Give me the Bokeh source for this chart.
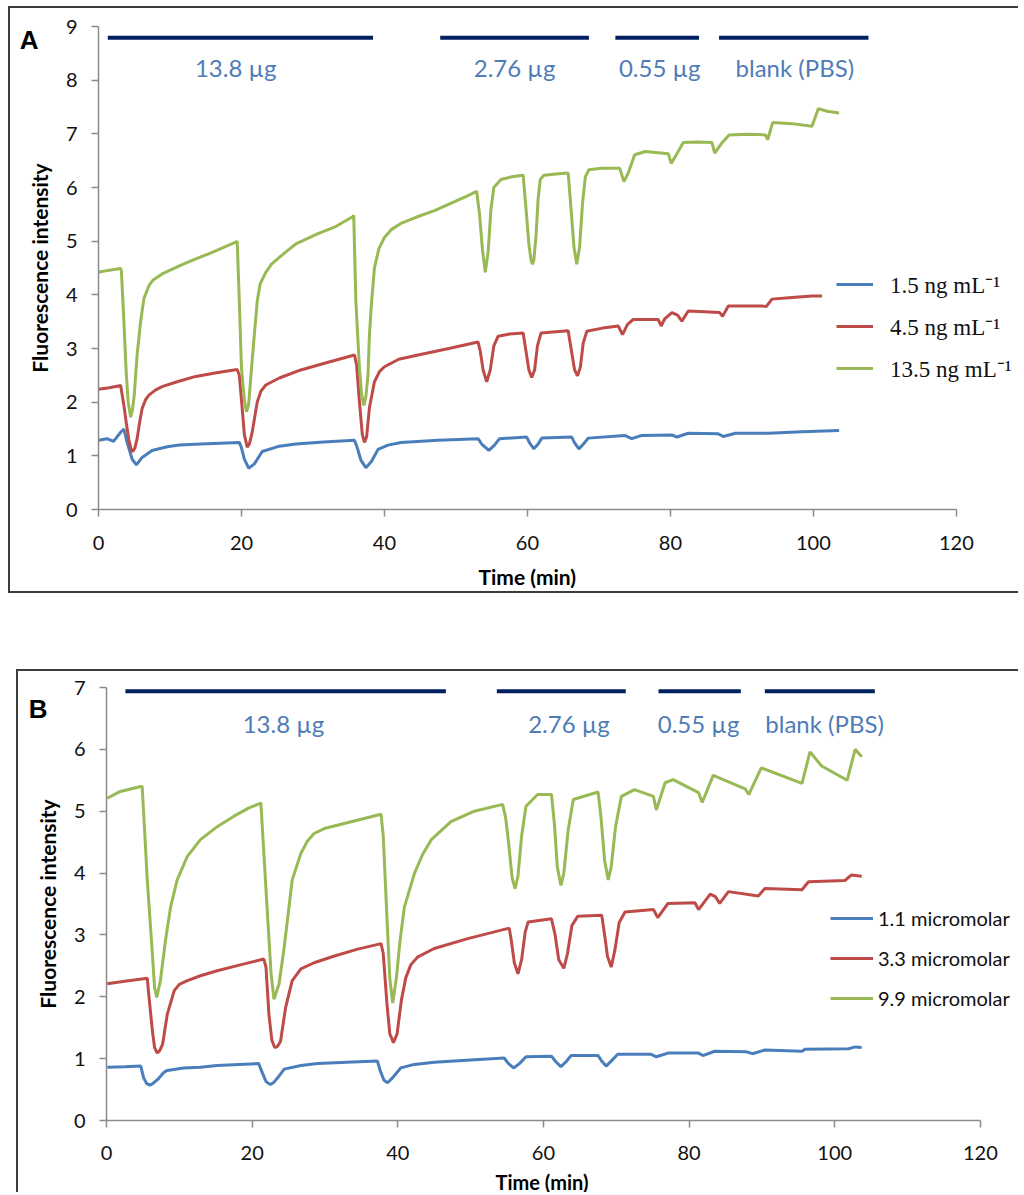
from bokeh.plotting import figure
from bokeh.layouts import column
from bokeh.models import (Range1d, FixedTicker, Legend, LegendItem, ColumnDataSource,
                          LinearAxis, Title)
from bokeh.embed import file_html
from bokeh.resources import INLINE
from bokeh.core.properties import value

# ---------------- data ----------------
TIME_TICKS = [0, 20, 40, 60, 80, 100, 120]
A_Y_TICKS = [0, 1, 2, 3, 4, 5, 6, 7, 8, 9]
B_Y_TICKS = [0, 1, 2, 3, 4, 5, 6, 7]

A_NAMES = ["1.5 ng mL\u207b\u00b9", "4.5 ng mL\u207b\u00b9", "13.5 ng mL\u207b\u00b9"]
B_NAMES = ["1.1 micromolar", "3.3 micromolar", "9.9 micromolar"]

DOSE_LABELS = ["13.8 \u00b5g", "2.76 \u00b5g", "0.55 \u00b5g", "blank (PBS)"]
A_DOSE_START = [1.3, 47.8, 72.3, 86.8]
A_DOSE_END = [38.4, 68.6, 84.0, 107.7]
A_DOSE_LEVEL = 8.79
A_DOSE_LABEL_X = [19.2, 58.2, 78.5, 97.4]
A_DOSE_LABEL_Y = 8.24
B_DOSE_START = [2.6, 53.6, 75.8, 90.4]
B_DOSE_END = [46.6, 71.3, 87.1, 105.5]
B_DOSE_LEVEL = 6.94
B_DOSE_LABEL_X = [24.3, 63.5, 81.3, 98.6]
B_DOSE_LABEL_Y = 6.42

# Panel A, 1.5 ng/mL (time min, intensity)
A_BLUE = [(0, 1.29), (1.2, 1.32), (2.1, 1.27), (3.1, 1.44), (3.55, 1.5), (4.0, 1.25), (4.7, 0.94),
          (5.3, 0.83), (6.1, 0.97), (7.5, 1.1), (9.6, 1.17), (11.3, 1.2), (14.3, 1.22), (19.7, 1.25),
          (20.0, 1.15), (20.4, 0.94), (21.0, 0.77), (21.8, 0.85), (22.9, 1.08), (25.3, 1.18),
          (27.6, 1.22), (31.5, 1.26), (35.8, 1.29), (36.2, 1.15), (36.7, 0.92), (37.4, 0.78),
          (38.2, 0.9), (39.1, 1.12), (40.5, 1.2), (42.3, 1.25), (47.5, 1.29), (53.1, 1.32),
          (53.6, 1.22), (54.6, 1.1), (55.4, 1.2), (56.1, 1.32), (59.9, 1.35), (60.3, 1.24),
          (60.9, 1.13), (61.5, 1.22), (62.0, 1.33), (66.2, 1.35), (66.6, 1.24), (67.2, 1.13),
          (67.9, 1.23), (68.5, 1.33), (73.6, 1.38), (74.6, 1.32), (76.0, 1.38), (80.2, 1.39),
          (80.9, 1.35), (82.5, 1.42), (86.7, 1.41), (87.4, 1.36), (89.1, 1.42), (93.7, 1.42),
          (98.4, 1.45), (103.6, 1.47)]
# Panel A, 4.5 ng/mL
A_RED = [(0, 2.24), (1.5, 2.27), (3.1, 2.31), (3.55, 1.94), (3.9, 1.6), (4.25, 1.3), (4.6, 1.1),
         (4.8, 1.08), (5.1, 1.15), (5.4, 1.32), (5.75, 1.62), (6.1, 1.88), (6.6, 2.05),
         (7.05, 2.13), (8.0, 2.23), (8.9, 2.29), (11.0, 2.38), (13.6, 2.48), (16.5, 2.55),
         (19.4, 2.61), (19.7, 2.5), (20.1, 1.88), (20.4, 1.4), (20.8, 1.16), (21.1, 1.22),
         (21.5, 1.44), (22.2, 2.0), (22.7, 2.2), (23.4, 2.32), (25.3, 2.45), (28.3, 2.6),
         (32.0, 2.74), (35.8, 2.88), (36.1, 2.7), (36.5, 2.0), (36.9, 1.4), (37.2, 1.25),
         (37.5, 1.35), (37.9, 1.9), (38.6, 2.38), (39.3, 2.57), (40.0, 2.66), (42.0, 2.8),
         (44.7, 2.88), (49.0, 3.0), (53.1, 3.12), (53.4, 2.95), (53.8, 2.6), (54.3, 2.38),
         (54.8, 2.6), (55.3, 3.05), (55.9, 3.23), (57.5, 3.27), (59.4, 3.29), (59.8, 2.95),
         (60.2, 2.6), (60.6, 2.46), (61.0, 2.6), (61.4, 3.05), (61.9, 3.29), (65.7, 3.33),
         (66.1, 3.0), (66.6, 2.6), (67.0, 2.49), (67.4, 2.65), (67.8, 3.1), (68.3, 3.32),
         (70.5, 3.38), (72.7, 3.42), (73.3, 3.26), (74.0, 3.45), (74.8, 3.54), (78.3, 3.54),
         (78.7, 3.42), (79.2, 3.55), (80.2, 3.67), (81.0, 3.62), (81.6, 3.51), (82.5, 3.7),
         (86.9, 3.67), (87.3, 3.6), (88.1, 3.79), (93.0, 3.79), (93.4, 3.78), (94.2, 3.92),
         (97.0, 3.95), (99.8, 3.98), (101.2, 3.98)]
# Panel A, 13.5 ng/mL
A_GREEN = [(0, 4.42), (1.5, 4.46), (3.1, 4.49), (3.2, 4.45), (3.55, 3.51), (3.87, 2.57), (4.15, 2.0),
           (4.5, 1.72), (4.75, 1.85), (5.0, 2.13), (5.4, 2.88), (5.9, 3.51), (6.35, 3.93),
           (7.05, 4.17), (7.6, 4.27), (8.9, 4.39), (11.3, 4.54), (13.6, 4.67), (15.9, 4.79),
           (19.2, 4.98), (19.4, 5.0), (19.7, 3.88), (20.0, 2.63), (20.4, 2.05), (20.7, 1.82),
           (21.0, 1.95), (21.4, 2.63), (21.8, 3.26), (22.2, 3.88), (22.6, 4.2), (23.4, 4.42),
           (24.2, 4.57), (25.3, 4.7), (27.6, 4.95), (30.7, 5.14), (33.0, 5.26), (35.6, 5.46),
           (35.7, 5.48), (36.0, 3.88), (36.5, 2.63), (36.8, 2.15), (37.1, 1.94), (37.4, 2.1),
           (37.7, 2.51), (37.9, 3.26), (38.2, 3.88), (38.6, 4.5), (39.2, 4.85), (40.0, 5.07),
           (41.0, 5.22), (42.3, 5.33), (44.5, 5.45), (47.0, 5.57), (49.5, 5.72), (51.7, 5.85),
           (52.9, 5.93), (53.3, 5.5), (53.7, 4.85), (54.1, 4.42), (54.5, 4.8), (54.9, 5.6),
           (55.3, 6.0), (56.3, 6.15), (57.8, 6.2), (59.4, 6.23), (59.8, 5.6), (60.2, 4.95),
           (60.5, 4.65), (60.7, 4.57), (60.9, 4.65), (61.2, 5.1), (61.5, 5.8), (61.8, 6.15),
           (62.3, 6.23), (64.0, 6.25), (65.7, 6.27), (66.1, 5.6), (66.5, 4.9), (66.9, 4.57),
           (67.3, 4.9), (67.7, 5.7), (68.1, 6.2), (68.6, 6.33), (70.4, 6.36), (72.9, 6.36),
           (73.5, 6.11), (74.1, 6.27), (75.0, 6.61), (76.5, 6.67), (79.7, 6.63), (80.1, 6.45),
           (80.7, 6.58), (81.8, 6.84), (83.8, 6.85), (85.8, 6.84), (86.2, 6.64), (87.2, 6.83),
           (88.2, 6.98), (90.8, 6.99), (93.3, 6.98), (93.6, 6.89), (94.3, 7.21), (97.0, 7.19),
           (99.8, 7.14), (100.7, 7.47), (101.9, 7.42), (103.6, 7.39)]

# Panel B, 1.1 micromolar
B_BLUE = [(0.1, 0.86), (2.5, 0.87), (4.7, 0.88), (5.1, 0.69), (5.5, 0.6), (5.95, 0.57), (6.4, 0.6),
          (7.0, 0.66), (7.9, 0.78), (8.35, 0.81), (10.6, 0.85), (12.9, 0.86), (15.2, 0.89),
          (20.9, 0.92), (21.4, 0.77), (21.9, 0.63), (22.5, 0.58), (23.0, 0.62), (23.5, 0.69),
          (24.4, 0.83), (26.7, 0.89), (29.0, 0.92), (33.0, 0.94), (37.2, 0.96), (37.6, 0.8),
          (38.1, 0.65), (38.6, 0.61), (39.2, 0.68), (40.4, 0.85), (42.0, 0.9), (45.0, 0.94),
          (50.0, 0.98), (54.6, 1.01), (55.2, 0.92), (55.9, 0.85), (56.7, 0.92), (57.6, 1.03),
          (61.1, 1.04), (61.7, 0.95), (62.4, 0.87), (63.1, 0.95), (63.8, 1.05), (67.5, 1.05),
          (68.0, 0.96), (68.6, 0.88), (69.3, 0.96), (70.2, 1.07), (74.8, 1.07), (75.5, 1.03),
          (77.1, 1.09), (81.3, 1.09), (81.9, 1.05), (83.5, 1.12), (87.9, 1.11), (88.7, 1.08),
          (90.4, 1.14), (95.5, 1.12), (95.9, 1.15), (101.9, 1.16), (102.8, 1.19), (103.7, 1.18)]
# Panel B, 3.3 micromolar
B_RED = [(0.1, 2.21), (2.5, 2.25), (5.6, 2.30), (5.8, 2.04), (6.3, 1.45), (6.6, 1.18), (6.97, 1.09),
         (7.3, 1.13), (7.7, 1.23), (8.35, 1.72), (9.3, 2.10), (10.0, 2.2), (11.1, 2.26),
         (12.9, 2.34), (15.2, 2.42), (18.5, 2.52), (21.6, 2.61), (21.9, 2.48), (22.3, 1.72),
         (22.7, 1.3), (23.1, 1.18), (23.5, 1.2), (23.9, 1.28), (24.6, 1.83), (25.5, 2.26),
         (26.7, 2.45), (28.5, 2.55), (31.3, 2.66), (34.5, 2.77), (37.7, 2.86), (38.0, 2.7),
         (38.5, 1.9), (38.9, 1.4), (39.4, 1.26), (39.9, 1.4), (40.5, 1.95), (41.1, 2.31),
         (41.8, 2.52), (42.7, 2.64), (45.0, 2.78), (49.6, 2.94), (55.3, 3.11), (55.6, 2.9),
         (56.0, 2.55), (56.5, 2.37), (57.0, 2.6), (57.5, 3.05), (57.9, 3.21), (61.1, 3.26),
         (61.6, 3.0), (62.1, 2.6), (62.8, 2.46), (63.3, 2.7), (63.9, 3.15), (64.7, 3.3),
         (68.0, 3.32), (68.4, 3.0), (68.8, 2.65), (69.3, 2.48), (69.8, 2.75), (70.4, 3.2),
         (71.2, 3.37), (75.1, 3.41), (75.7, 3.28), (77.1, 3.51), (80.8, 3.52), (81.3, 3.41),
         (82.9, 3.66), (83.6, 3.62), (84.2, 3.51), (85.4, 3.70), (89.5, 3.63), (90.4, 3.75),
         (95.5, 3.73), (96.4, 3.86), (101.4, 3.88), (102.3, 3.97), (103.7, 3.95)]
# Panel B, 9.9 micromolar
B_GREEN = [(0.1, 5.21), (1.9, 5.32), (4.7, 5.40), (4.9, 5.40), (5.6, 3.89), (6.3, 2.69), (6.6, 2.15),
           (6.9, 1.99), (7.4, 2.26), (8.1, 2.91), (8.8, 3.45), (9.7, 3.89), (11.1, 4.27),
           (12.9, 4.54), (15.2, 4.75), (17.5, 4.92), (19.5, 5.05), (21.2, 5.13), (22.1, 3.34),
           (22.6, 2.37), (23.0, 1.96), (23.7, 2.21), (24.4, 2.80), (25.5, 3.89), (26.7, 4.32),
           (27.6, 4.52), (28.5, 4.64), (29.9, 4.72), (33.6, 4.83), (37.7, 4.95), (38.0, 4.6),
           (38.5, 3.3), (38.9, 2.3), (39.3, 1.90), (39.8, 2.3), (40.3, 2.9), (40.9, 3.45),
           (42.3, 4.0), (43.4, 4.3), (44.6, 4.54), (47.3, 4.83), (50.5, 5.0), (54.4, 5.11),
           (54.8, 4.9), (55.2, 4.5), (55.7, 3.92), (56.1, 3.75), (56.5, 3.95), (57.0, 4.6),
           (57.6, 5.08), (59.2, 5.27), (61.1, 5.27), (61.5, 4.8), (61.9, 4.1), (62.4, 3.80),
           (62.8, 4.0), (63.4, 4.7), (64.1, 5.19), (67.5, 5.31), (67.9, 4.9), (68.4, 4.2),
           (68.9, 3.89), (69.3, 4.1), (69.9, 4.75), (70.7, 5.24), (72.5, 5.35), (75.1, 5.24),
           (75.5, 5.02), (76.7, 5.46), (77.8, 5.51), (81.3, 5.30), (81.8, 5.14), (83.3, 5.58),
           (87.7, 5.36), (88.2, 5.27), (89.9, 5.70), (95.5, 5.45), (96.6, 5.96), (98.2, 5.73),
           (101.7, 5.50), (102.8, 6.0), (103.7, 5.88)]

COLORS = ["#4a7ebb", "#be4b48", "#98b954"]
BAR_COLOR = "#002060"
DOSE_TEXT_COLOR = "#4f7cb8"
AXIS_COLOR = "#8c8c8c"
BORDER = "2px solid #3c3c3c"


def make_panel(letter, letter_y, letter_standoff, series, names, ymax, yticks, x_end,
               dose_start, dose_end, dose_level, label_x, label_y, frame_w, frame_h, mbt, mbb,
               x_standoff, gap, title_offset, title_standoff, title_size, legend_loc,
               legend_font, legend_size, glyph_w, standoff, spacing, styles, margin):
    p = figure(frame_width=frame_w, frame_height=frame_h, output_backend="svg",
               toolbar_location=None, x_range=Range1d(0, x_end), y_range=Range1d(0, ymax),
               min_border_left=88, min_border_right=2, min_border_top=mbt,
               min_border_bottom=mbb, background_fill_color=None, border_fill_color="white",
               outline_line_color=None)
    p.styles = styles
    p.margin = margin
    p.grid.visible = False
    p.xaxis.bounds = (0, 120)
    for ax, ticks in ((p.xaxis, TIME_TICKS), (p.yaxis, yticks)):
        ax.ticker = FixedTicker(ticks=ticks)
        ax.axis_line_color = AXIS_COLOR
        ax.axis_line_width = 1.5
        ax.major_tick_line_color = AXIS_COLOR
        ax.major_tick_line_width = 1.5
        ax.major_tick_out = 7
        ax.major_tick_in = 0
        ax.minor_tick_line_color = None
        ax.major_label_text_font = "Lato"
        ax.major_label_text_font_size = "20px"
        ax.major_label_text_color = "#111111"
    p.yaxis.axis_label = "Fluorescence intensity"
    p.yaxis.axis_label_text_font = "Lato"
    p.yaxis.axis_label_text_font_style = "bold"
    p.yaxis.axis_label_text_font_size = "21px"
    p.yaxis.axis_label_text_color = "#000000"
    p.xaxis.major_label_standoff = x_standoff
    p.yaxis.major_label_standoff = 14
    p.yaxis.axis_label_standoff = 11
    # blank, tiny x-axis label: only adds a gap between tick labels and the title below
    p.xaxis.axis_label = " "
    p.xaxis.axis_label_text_font_size = "1px"
    p.xaxis.axis_label_standoff = gap

    # x-axis title, centred under the 0-120 part of the axis
    p.add_layout(Title(text="Time (min)", align="left", offset=title_offset,
                       vertical_align="middle", standoff=title_standoff, text_font="Lato",
                       text_font_style="bold", text_font_size=title_size,
                       text_color="#000000"),
                 "below")

    # panel letter, drawn as the only label of an outer left axis
    letter_axis = LinearAxis(ticker=FixedTicker(ticks=[letter_y]),
                             major_label_overrides={letter_y: letter},
                             axis_line_color=None, major_tick_line_color=None,
                             major_tick_in=0, major_tick_out=0, minor_tick_line_color=None,
                             major_label_standoff=letter_standoff,
                             major_label_text_font="Liberation Sans",
                             major_label_text_font_style="bold",
                             major_label_text_font_size="26px",
                             major_label_text_color="#000000")
    p.add_layout(letter_axis, "left")

    renderers = []
    for pts, c in zip(series, COLORS):
        src = ColumnDataSource(dict(t=[a for a, b in pts], v=[b for a, b in pts]))
        r = p.line("t", "v", source=src, line_color=c, line_width=3)
        renderers.append(r)

    p.segment(x0=dose_start, y0=[dose_level] * 4, x1=dose_end, y1=[dose_level] * 4,
              line_color=BAR_COLOR, line_width=4)
    p.text(x=label_x, y=[label_y] * 4, text=DOSE_LABELS, text_font=value("Lato"),
           text_font_size="24px", text_color=DOSE_TEXT_COLOR, text_align="center",
           text_baseline="middle")

    legend = Legend(items=[LegendItem(label=n, renderers=[r]) for n, r in zip(names, renderers)],
                    location=legend_loc, orientation="vertical", glyph_width=glyph_w,
                    glyph_height=20, label_height=20, label_standoff=standoff, spacing=spacing,
                    padding=0, margin=0, border_line_alpha=0, background_fill_alpha=0,
                    label_text_font=legend_font, label_text_font_size=legend_size,
                    label_text_color="#111111")
    p.add_layout(legend)
    return p


pA = make_panel("A", 8.74, -15, [A_BLUE, A_RED, A_GREEN], A_NAMES, 9, A_Y_TICKS, 128.69,
                A_DOSE_START, A_DOSE_END, A_DOSE_LEVEL, A_DOSE_LABEL_X, A_DOSE_LABEL_Y,
                frame_w=918, frame_h=479, mbt=18, mbb=86, x_standoff=19, gap=7,
                title_offset=380, title_standoff=-1, title_size="21px",
                legend_loc=(738, 125), legend_font="Liberation Serif", legend_size="23px",
                glyph_w=37, standoff=17, spacing=10,
                styles={"border-left": BORDER, "border-top": BORDER, "border-bottom": BORDER},
                margin=(6, 0, 0, 8))
pB = make_panel("B", 6.65, -16, [B_BLUE, B_RED, B_GREEN], B_NAMES, 7, B_Y_TICKS, 125.23,
                B_DOSE_START, B_DOSE_END, B_DOSE_LEVEL, B_DOSE_LABEL_X, B_DOSE_LABEL_Y,
                frame_w=910, frame_h=431, mbt=16, mbb=70, x_standoff=18, gap=2,
                title_offset=389, title_standoff=0, title_size="20px",
                legend_loc=(724, 110), legend_font="Lato", legend_size="20px",
                glyph_w=43, standoff=5, spacing=16,
                styles={"border-left": BORDER, "border-top": BORDER},
                margin=(76, 0, 0, 16))

layout = column(pA, pB, spacing=0)
open("out.html", "w").write(file_html(layout, INLINE))
